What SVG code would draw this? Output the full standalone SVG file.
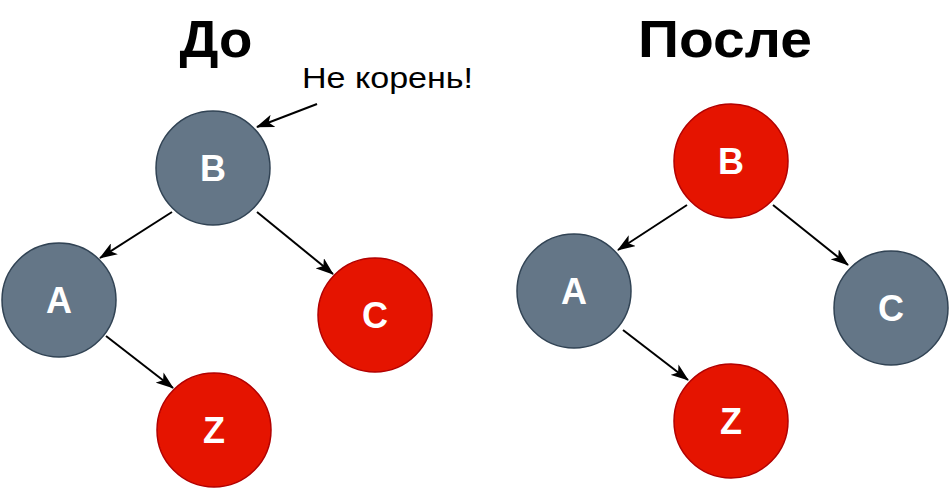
<svg xmlns="http://www.w3.org/2000/svg" width="950" height="489" viewBox="0 0 950 489">
<style>
.bg{fill:#ffffff}
.title{font-family:"Liberation Sans",Arial,sans-serif;font-weight:bold;font-size:52px;fill:#000;text-anchor:middle}
.note{font-family:"Liberation Sans",Arial,sans-serif;font-size:30px;fill:#000}
.black circle{fill:#647687;stroke:#314354;stroke-width:1.5}
.red circle{fill:#e51400;stroke:#b20000;stroke-width:1.5}
.lbl{font-family:"Liberation Sans",Arial,sans-serif;font-weight:bold;font-size:36px;fill:#fff;text-anchor:middle;dominant-baseline:central}
.edge{stroke:#000;stroke-width:2;fill:none;marker-end:url(#arr)}
</style>
<defs>
<marker id="arr" markerUnits="userSpaceOnUse" viewBox="0 0 18 13" markerWidth="18" markerHeight="13" refX="17" refY="6.5" orient="auto">
<path d="M0,0 L18,6.5 L0,13 L4.5,6.5 z" fill="#000"/>
</marker>
</defs>
<rect class="bg" width="950" height="489"/>
<text class="title" x="216" y="57" textLength="73" lengthAdjust="spacingAndGlyphs">До</text>
<text class="title" x="725" y="57" textLength="174" lengthAdjust="spacingAndGlyphs">После</text>
<text class="note" x="302" y="88" textLength="171" lengthAdjust="spacingAndGlyphs">Не корень!</text>
<g id="connectors">
<line class="edge" x1="172" y1="212" x2="100" y2="258"/>
<line class="edge" x1="257" y1="212" x2="333" y2="274"/>
<line class="edge" x1="106" y1="336" x2="173" y2="388"/>
<line class="edge" x1="317" y1="104" x2="257" y2="127"/>
<line class="edge" x1="687" y1="205" x2="618" y2="250"/>
<line class="edge" x1="773" y1="205" x2="848" y2="265"/>
<line class="edge" x1="623" y1="330" x2="688" y2="380"/>
</g>
<g id="before-B" class="black"><circle cx="213" cy="168" r="57"/><text class="lbl" x="213" y="168">B</text></g>
<g id="before-A" class="black"><circle cx="59" cy="300" r="57"/><text class="lbl" x="59" y="300">A</text></g>
<g id="before-C" class="red"><circle cx="375" cy="315" r="57"/><text class="lbl" x="375" y="315">C</text></g>
<g id="before-Z" class="red"><circle cx="214" cy="430" r="57"/><text class="lbl" x="214" y="430">Z</text></g>
<g id="after-B" class="red"><circle cx="731" cy="161" r="57"/><text class="lbl" x="731" y="161">B</text></g>
<g id="after-A" class="black"><circle cx="574" cy="291" r="57"/><text class="lbl" x="574" y="291">A</text></g>
<g id="after-C" class="black"><circle cx="891" cy="308" r="57"/><text class="lbl" x="891" y="308">C</text></g>
<g id="after-Z" class="red"><circle cx="731" cy="421" r="57"/><text class="lbl" x="731" y="421">Z</text></g>
</svg>
